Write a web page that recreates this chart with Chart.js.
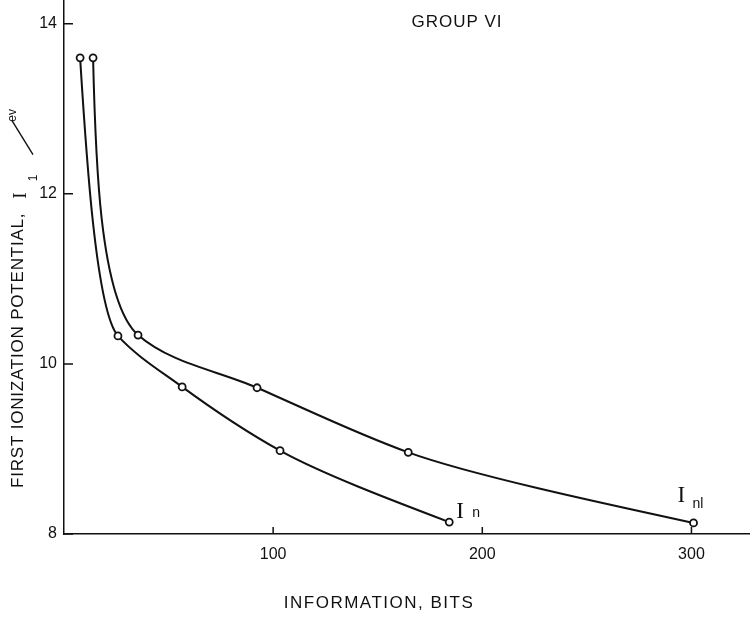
<!DOCTYPE html>
<html>
<head>
<meta charset="utf-8">
<script src="https://cdn.jsdelivr.net/npm/chart.js@4.4.1/dist/chart.umd.min.js"></script>
<style>
  html, body { margin: 0; padding: 0; background: #fff; }
</style>
</head>
<body>
<canvas id="chart" width="750" height="621"></canvas>
<script>
// information content (bits) against first ionization potential (eV)
const infoN = [7.7, 25.8, 56.5, 103.3, 184.2];
const potentialN = [13.6, 10.33, 9.73, 8.98, 8.14];
const infoNl = [13.9, 35.4, 92.3, 164.6, 301];
const potentialNl = [13.6, 10.34, 9.72, 8.96, 8.13];

const xTicks = [100, 200, 300];
const yTicks = [8, 10, 12, 14];

const seriesSymbol = "I";
const seriesSubs = ["n", "nl"];
const chartTitle = "GROUP VI";
const xTitle = "INFORMATION, BITS";
const yTitleText = "FIRST IONIZATION POTENTIAL,";
const yTitleSymbol = "I";
const yTitleSub = "1";
const yTitleUnit = "ev";

const INK = "#111";
const SANS = "'Liberation Sans', Arial, sans-serif";
const SERIF = "'Liberation Serif', 'Times New Roman', serif";

const toPoints = (xs, ys) => xs.map((v, i) => ({ x: v, y: ys[i] }));

const lineStyle = {
  borderColor: INK,
  borderWidth: 2,
  tension: 0.4,
  pointRadius: 3.5,
  pointBorderWidth: 1.8,
  pointBorderColor: INK,
  pointBackgroundColor: "#fff",
  fill: false,
};

// where the I_n / I_nl tags sit relative to each curve's last point
const tagOffsets = [
  { ix: 7, iy: -4, sx: 23, sy: -5 },
  { ix: -16, iy: -21, sx: -1, sy: -15 },
];

// Re-place the bezier handles: the tangent at each inner point leans toward
// the shorter neighbouring segment, and a handle never reaches far past the
// other side's length, so the curves turn tightly at the knee.
const smoothCurves = {
  id: "smoothCurves",
  beforeDatasetDraw(chart, args) {
    const meta = args.meta;
    if (!meta.dataset) return;
    meta.dataset.updateControlPoints(chart.chartArea, "x");
    const pts = meta.data;
    const n = pts.length;
    if (n < 3) return;
    const seg = [];
    for (let i = 0; i < n - 1; i++) {
      const dx = pts[i + 1].x - pts[i].x;
      const dy = pts[i + 1].y - pts[i].y;
      const len = Math.hypot(dx, dy) || 1;
      seg.push({ ux: dx / len, uy: dy / len, len });
    }
    for (let i = 1; i < n - 1; i++) {
      const a = seg[i - 1];
      const b = seg[i];
      let tx = b.len * a.ux + a.len * b.ux;
      let ty = b.len * a.uy + a.len * b.uy;
      const tl = Math.hypot(tx, ty) || 1;
      tx /= tl;
      ty /= tl;
      const hIn = Math.min(a.len / 3, b.len * 0.4);
      const hOut = Math.min(b.len / 3, a.len * 0.4);
      const p = pts[i];
      p.cp1x = p.x - tx * hIn;
      p.cp1y = p.y - ty * hIn;
      p.cp2x = p.x + tx * hOut;
      p.cp2y = p.y + ty * hOut;
    }
    // end handles aim at the neighbouring handle
    const first = pts[0];
    const second = pts[1];
    let dx = second.cp1x - first.x;
    let dy = second.cp1y - first.y;
    let dl = Math.hypot(dx, dy) || 1;
    first.cp2x = first.x + (dx / dl) * seg[0].len / 3;
    first.cp2y = first.y + (dy / dl) * seg[0].len / 3;
    first.cp1x = first.x;
    first.cp1y = first.y;
    const last = pts[n - 1];
    const prev = pts[n - 2];
    dx = last.x - prev.cp2x;
    dy = last.y - prev.cp2y;
    dl = Math.hypot(dx, dy) || 1;
    last.cp1x = last.x - (dx / dl) * seg[n - 2].len / 3;
    last.cp1y = last.y - (dy / dl) * seg[n - 2].len / 3;
    last.cp2x = last.x;
    last.cp2y = last.y;
  },
};

const annotate = {
  id: "annotate",
  afterDraw(chart) {
    const { ctx, chartArea, scales } = chart;
    const x = scales.x;
    const y = scales.y;
    ctx.save();
    ctx.strokeStyle = INK;
    ctx.fillStyle = INK;

    // tick marks point into the plot
    ctx.lineWidth = 1.5;
    ctx.beginPath();
    x.ticks.forEach((t) => {
      const px = x.getPixelForValue(t.value);
      ctx.moveTo(px, chartArea.bottom);
      ctx.lineTo(px, chartArea.bottom - 7);
    });
    y.ticks.forEach((t) => {
      const py = y.getPixelForValue(t.value);
      ctx.moveTo(chartArea.left, py);
      ctx.lineTo(chartArea.left + 9, py);
    });
    ctx.stroke();

    ctx.textBaseline = "middle";
    ctx.textAlign = "center";
    ctx.font = "17px " + SANS;
    ctx.letterSpacing = "1px";
    ctx.fillText(chartTitle, 457, 22);

    ctx.letterSpacing = "1.5px";
    ctx.fillText(xTitle, 379, 603);

    // rotated y title: text, I with subscript 1, then /ev
    ctx.save();
    ctx.translate(23, 488);
    ctx.rotate(-Math.PI / 2);
    ctx.textAlign = "left";
    ctx.textBaseline = "alphabetic";
    ctx.font = "17px " + SANS;
    ctx.letterSpacing = "0.8px";
    ctx.fillText(yTitleText, 0, 0);
    let w = ctx.measureText(yTitleText).width + 14;
    ctx.letterSpacing = "0px";
    ctx.font = "19px " + SERIF;
    ctx.fillText(yTitleSymbol, w, 3);
    w += ctx.measureText(yTitleSymbol).width + 11;
    ctx.font = "12px " + SANS;
    ctx.fillText(yTitleSub, w, 14);
    w += ctx.measureText(yTitleSub).width + 20;
    ctx.lineWidth = 1.4;
    ctx.beginPath();
    ctx.moveTo(w, 10);
    ctx.lineTo(w + 34, -11);
    ctx.stroke();
    ctx.font = "12px " + SANS;
    ctx.fillText(yTitleUnit, w + 33, -7);
    ctx.restore();

    // series tags next to the last point of each curve
    ctx.textAlign = "left";
    ctx.textBaseline = "alphabetic";
    ctx.letterSpacing = "0px";
    chart.data.datasets.forEach((ds, i) => {
      const last = ds.data[ds.data.length - 1];
      const px = x.getPixelForValue(last.x);
      const py = y.getPixelForValue(last.y);
      const o = tagOffsets[i];
      ctx.font = "23px " + SERIF;
      ctx.fillText(seriesSymbol, px + o.ix, py + o.iy);
      ctx.font = "14px " + SANS;
      ctx.fillText(seriesSubs[i], px + o.sx, py + o.sy);
    });

    ctx.restore();
  },
};

new Chart(document.getElementById("chart"), {
  type: "line",
  data: {
    datasets: [
      { label: seriesSymbol + seriesSubs[0], data: toPoints(infoN, potentialN), ...lineStyle },
      { label: seriesSymbol + seriesSubs[1], data: toPoints(infoNl, potentialNl), ...lineStyle },
    ],
  },
  options: {
    responsive: false,
    animation: false,
    devicePixelRatio: 1,
    layout: { padding: 0, autoPadding: false },
    plugins: {
      legend: { display: false },
      tooltip: { enabled: false },
    },
    scales: {
      x: {
        type: "linear",
        min: 0,
        max: 328,
        grid: { display: false, drawTicks: false },
        border: { color: INK, width: 1.5 },
        ticks: {
          color: INK,
          font: { family: SANS, size: 16 },
          padding: 11,
          maxRotation: 0,
          autoSkip: false,
        },
        afterBuildTicks: (s) => {
          s.ticks = xTicks.map((v) => ({ value: v }));
        },
        afterFit: (s) => {
          s.height = 87;
          s.paddingLeft = 0;
          s.paddingRight = 0;
        },
      },
      y: {
        type: "linear",
        min: 8,
        max: 14.28,
        grid: { display: false, drawTicks: false },
        border: { color: INK, width: 1.5 },
        ticks: {
          color: INK,
          font: { family: SANS, size: 16 },
          padding: 7,
          autoSkip: false,
        },
        afterBuildTicks: (s) => {
          s.ticks = yTicks.map((v) => ({ value: v }));
        },
        afterFit: (s) => {
          s.width = 64;
          s.paddingTop = 0;
          s.paddingBottom = 0;
        },
      },
    },
  },
  plugins: [smoothCurves, annotate],
});
</script>
</body>
</html>
